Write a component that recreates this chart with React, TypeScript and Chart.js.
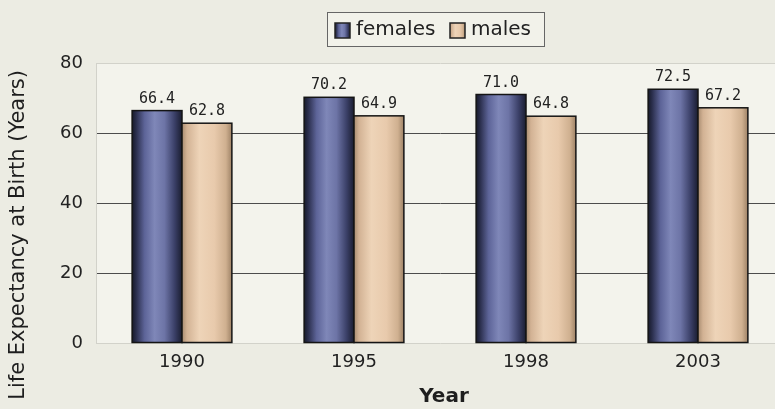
import React, { useEffect, useRef } from "react";
import { Chart, registerables } from "chart.js";

Chart.register(...registerables);

const categories = ["1990", "1995", "1998", "2003"];
const femalesValues = [66.4, 70.2, 71.0, 72.5];
const malesValues = [62.8, 64.9, 64.8, 67.2];
const seriesNames = ["females", "males"];
const yMin = 0;
const yMax = 80;
const yStep = 20;
const yTitle = "Life Expectancy at Birth (Years)";
const xTitle = "Year";

const W = 800;
const H = 409;

const femaleStops: [number, string][] = [
  [0, "#171a2a"],
  [0.08, "#2a2e4c"],
  [0.25, "#5d6498"],
  [0.45, "#7f87b8"],
  [0.65, "#6d74a6"],
  [0.85, "#3b4068"],
  [1, "#1a1d30"],
];
const maleStops: [number, string][] = [
  [0, "#a88c70"],
  [0.1, "#d2b294"],
  [0.35, "#eed4b8"],
  [0.65, "#e8caac"],
  [0.88, "#cfb090"],
  [1, "#9e8266"],
];

function makeGrad(ctx: CanvasRenderingContext2D, x0: number, x1: number, stops: [number, string][]) {
  const g = ctx.createLinearGradient(x0, 0, x1, 0);
  stops.forEach(([o, c]) => g.addColorStop(o, c));
  return g;
}

const decorPlugin = {
  id: "decor",
  beforeDraw(chart: any) {
    const { ctx, chartArea } = chart;
    ctx.save();
    ctx.fillStyle = "#ececE3";
    ctx.fillRect(0, 0, chart.width, chart.height);
    ctx.fillStyle = "#f3f3ec";
    ctx.fillRect(chartArea.left, chartArea.top, chartArea.right - chartArea.left, chartArea.bottom - chartArea.top);
    ctx.restore();
  },
  afterDatasetsDraw(chart: any) {
    const { ctx } = chart;
    ctx.save();
    chart.data.datasets.forEach((ds: any, di: number) => {
      const meta = chart.getDatasetMeta(di);
      const stops = di === 0 ? femaleStops : maleStops;
      meta.data.forEach((el: any, i: number) => {
        const { x, y, base, width } = el.getProps(["x", "y", "base", "width"], true);
        const left = x - width / 2;
        ctx.fillStyle = makeGrad(ctx, left, left + width, stops);
        ctx.fillRect(left, y, width, base - y);
        ctx.strokeStyle = "#141414";
        ctx.lineWidth = 1.5;
        ctx.strokeRect(left, y, width, base - y);
        // value label
        ctx.fillStyle = "#222";
        ctx.font = "15px 'DejaVu Sans Mono'";
        ctx.textAlign = "center";
        ctx.textBaseline = "alphabetic";
        ctx.fillText(Number(ds.data[i]).toFixed(1), x, y - 8);
      });
    });
    ctx.restore();
  },
  afterDraw(chart: any) {
    const { ctx, chartArea } = chart;
    ctx.save();
    // Y title
    ctx.translate(19, 70);
    ctx.rotate(-Math.PI / 2);
    ctx.fillStyle = "#1e1e1e";
    ctx.font = "21px 'DejaVu Sans'";
    ctx.textAlign = "right";
    ctx.textBaseline = "middle";
    ctx.fillText(yTitle, 0, 0);
    ctx.restore();

    ctx.save();
    ctx.fillStyle = "#1e1e1e";
    ctx.font = "bold 20px 'DejaVu Sans'";
    ctx.textAlign = "center";
    ctx.textBaseline = "middle";
    ctx.fillText(xTitle, (chartArea.left + chartArea.right) / 2 + 4, 397);
    ctx.restore();

    // Legend
    ctx.save();
    const lx = 327.5, ly = 12.5, lw = 217, lh = 34;
    ctx.fillStyle = "#f2f2ea";
    ctx.fillRect(lx, ly, lw, lh);
    ctx.strokeStyle = "#666";
    ctx.lineWidth = 1;
    ctx.strokeRect(lx, ly, lw, lh);
    const items = [
      { name: seriesNames[0], sx: 335, stops: femaleStops, tx: 356 },
      { name: seriesNames[1], sx: 450, stops: maleStops, tx: 471 },
    ];
    items.forEach((it) => {
      ctx.fillStyle = makeGrad(ctx, it.sx, it.sx + 15, it.stops);
      ctx.fillRect(it.sx, 23, 15, 15);
      ctx.strokeStyle = "#222";
      ctx.lineWidth = 1.5;
      ctx.strokeRect(it.sx, 23, 15, 15);
      ctx.fillStyle = "#222";
      ctx.font = "20px 'DejaVu Sans'";
      ctx.textAlign = "left";
      ctx.textBaseline = "middle";
      ctx.fillText(it.name, it.tx, 30);
    });
    ctx.restore();
  },
};

export default function App() {
  const ref = useRef<HTMLCanvasElement | null>(null);
  useEffect(() => {
    if (!ref.current) return;
    const chart = new Chart(ref.current, {
      type: "bar",
      data: {
        labels: categories,
        datasets: [
          { label: seriesNames[0], data: femalesValues, backgroundColor: "#6a72a6" },
          { label: seriesNames[1], data: malesValues, backgroundColor: "#e4c6a8" },
        ],
      },
      options: {
        animation: false,
        responsive: false,
        devicePixelRatio: 1,
        layout: { padding: { top: 63, right: 16, bottom: 0, left: 0 } },
        datasets: { bar: { categoryPercentage: 0.58, barPercentage: 1.0 } },
        plugins: { legend: { display: false }, tooltip: { enabled: false } },
        scales: {
          x: {
            grid: { display: false, drawTicks: false },
            border: { display: false },
            ticks: { color: "#222", font: { family: "'DejaVu Sans'", size: 18 }, padding: 9 },
            afterFit: (s: any) => { s.height = 66; },
          },
          y: {
            min: yMin,
            max: yMax,
            ticks: { stepSize: yStep, color: "#222", font: { family: "'DejaVu Sans'", size: 18 }, padding: 13 },
            grid: {
              drawTicks: false,
              color: (c: any) => (c.tick && (c.tick.value === 0 || c.tick.value === yMax) ? "#d2d2ca" : "#4c4c4c"),
              lineWidth: 1,
            },
            border: { display: true, color: "#d2d2ca" },
            afterFit: (s: any) => { s.width = 96; },
          },
        },
      },
      plugins: [decorPlugin],
    } as any);
    return () => chart.destroy();
  }, []);
  return (
    <div style={{ position: "fixed", left: 0, top: 0, width: W, height: H, overflow: "hidden" }}>
      <canvas ref={ref} width={W} height={H} style={{ width: W, height: H, display: "block" }} />
    </div>
  );
}
